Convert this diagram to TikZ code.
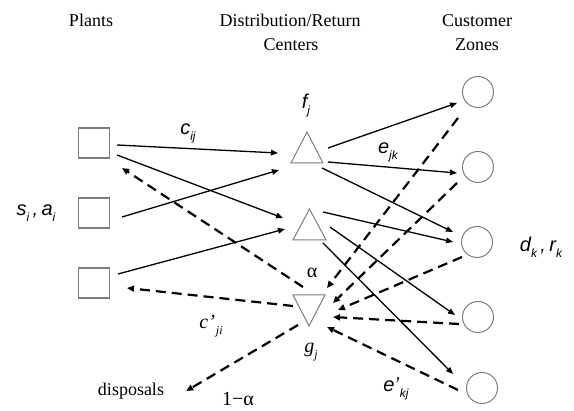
\documentclass[tikz,border=0pt]{standalone}
\usepackage{fontspec}
\setmainfont{Liberation Serif}
\newfontfamily\arialfam{Liberation Sans}
\usetikzlibrary{arrows.meta,calc}
\newcommand{\slab}[2]{{\arialfam\itshape #1\raisebox{-0.3em}{\fontsize{12}{12}\selectfont #2}}}
\newcommand{\tlab}[2]{{\itshape #1\raisebox{-0.3em}{\fontsize{12}{12}\selectfont #2}}}
\definecolor{shapegray}{RGB}{125,125,125}
\begin{document}
\begin{tikzpicture}[x=1pt,y=-1pt,
  plantbox/.style={draw=shapegray, line width=1.1pt, minimum width=31pt, minimum height=30pt, inner sep=0pt},
  zone/.style={circle, draw=shapegray, line width=1pt, minimum size=31pt, inner sep=0pt},
  tri/.style={draw=shapegray, line width=1pt, line join=miter},
  flow/.style={line width=1.3pt, -{Triangle[length=7pt,width=5.5pt]}},
  ret/.style={line width=2.2pt, dash pattern=on 10pt off 6pt, -{Triangle[length=7pt,width=6pt]}},
  title/.style={anchor=base, inner sep=0pt, font=\fontsize{18}{18}\selectfont},
  lab/.style={inner sep=0pt, font=\fontsize{20}{20}\selectfont}]
\useasboundingbox (0,0) rectangle (574,411);

% titles
\node[title] (tpl) at (91,27) {Plants};
\node[title] (tdr) at (290,27) {Distribution/Return};
\node[title] (tce) at (291,51) {Centers};
\node[title] (tcu) at (477,27) {Customer};
\node[title] (tzo) at (477,51) {Zones};

% plants
\node[plantbox] (p1) at (94,143) {};
\node[plantbox] (p2) at (94,213) {};
\node[plantbox] (p3) at (94,283) {};

% distribution / return centers
\coordinate (t1) at (307,148);
\coordinate (t2) at (309.5,225);
\coordinate (g) at (309,310);
\draw[tri] ($(t1)+(-16,15)$) -- ($(t1)+(0,-16)$) -- ($(t1)+(16,15)$) -- cycle;
\draw[tri] ($(t2)+(-16.5,15)$) -- ($(t2)+(0,-16)$) -- ($(t2)+(16.5,15)$) -- cycle;
\draw[tri] ($(g)+(-16,-15)$) -- ($(g)+(0,16)$) -- ($(g)+(16,-15)$) -- cycle;

% customer zones
\node[zone] (k1) at (478,92) {};
\node[zone] (k2) at (478,167) {};
\node[zone] (k3) at (477,242) {};
\node[zone] (k4) at (478,317) {};
\node[zone] (k5) at (482,388) {};

% labels
\node[lab] (lcij) at (188,133) {\slab{c}{ij}};
\node[lab] (lfj) at (306,106) {\slab{f}{j}};
\node[lab] (lejk) at (388,152) {\slab{e}{jk}};
\node[lab] (lsa) at (36,213) {\slab{s}{i}{\arialfam\itshape\,,\,}\slab{a}{i}};
\node[lab] (ldr) at (541,247) {\slab{d}{k}{\arialfam\itshape\,,\,}\slab{r}{k}};
\node[lab] (lal) at (312,273) {α};
\node[lab] (lcji) at (211,326) {\tlab{c’\kern1pt}{ji}};
\node[lab] (lgj) at (311,352) {\tlab{g}{j}};
\node[lab] (lekj) at (396,389) {\slab{e’\kern1pt}{kj}};
\node[inner sep=0pt, font=\fontsize{18}{18}\selectfont] (disp) at (131,391) {disposals};
\node[lab] (l1a) at (238,399) {1−α};

% forward flows
\draw[flow] ($(p1)+(23,2)$) -- ($(t1)+(-29,5)$);
\draw[flow] ($(p1)+(23,12)$) -- ($(t2)+(-26.5,-7)$);
\draw[flow] ($(p2)+(28,4)$) -- ($(t1)+(-28,22)$);
\draw[flow] ($(p3)+(24,-9)$) -- ($(t2)+(-24.5,4)$);
\draw[flow] ($(t1)+(21,0)$) -- ($(k1)+(-21,11)$);
\draw[flow] ($(t1)+(21,14)$) -- ($(k2)+(-21,6)$);
\draw[flow] ($(t1)+(15,20)$) -- ($(k3)+(-24,-10)$);
\draw[flow] ($(t2)+(13.5,-13)$) -- ($(k3)+(-24,0)$);
\draw[flow] ($(t2)+(20.5,2)$) -- ($(k4)+(-23,-2)$);
\draw[flow] ($(t2)+(13.5,18)$) -- ($(k5)+(-29,-14)$);

% return flows
\draw[ret] ($(g)+(-6,-23)$) -- ($(p1)+(28,25)$);
\draw[ret] ($(g)+(-16,-4)$) -- ($(p3)+(33,5)$);
\draw[ret] ($(g)+(-11,15)$) -- ($(disp.east)+(22,0)$);
\draw[ret] ($(k1)+(-20,26)$) -- ($(g)+(18,-22)$);
\draw[ret] ($(k2)+(-21,16)$) -- ($(g)+(24,-7)$);
\draw[ret] ($(k3)+(-15,15)$) -- ($(g)+(29,0)$);
\draw[ret] ($(k4)+(-19,7)$) -- ($(g)+(24,7)$);
\draw[ret] ($(k5)+(-24,2)$) -- ($(g)+(18,17)$);
\end{tikzpicture}
\end{document}
